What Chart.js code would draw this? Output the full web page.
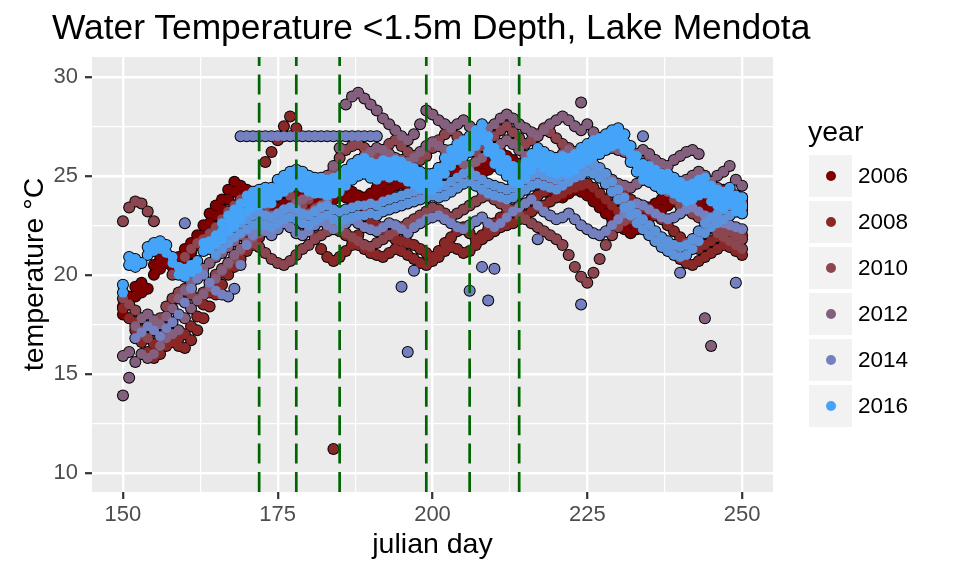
<!DOCTYPE html>
<html>
<head>
<meta charset="utf-8">
<script src="https://cdn.jsdelivr.net/npm/chart.js@4.4.1/dist/chart.umd.min.js"></script>
<style>
  body { margin: 0; background: #fff; }
  #wrap { position: relative; width: 960px; height: 576px; font-family: 'Liberation Sans', Arial, sans-serif; color: #000; }
  #chart { position: absolute; left: 0; top: 0; }
  .title { position: absolute; left: 52px; top: 10px; font-size: 35.4px; line-height: 35px; white-space: nowrap; }
  .lg-title { position: absolute; left: 808px; top: 117px; font-size: 28.5px; line-height: 28.5px; }
  .lg-box { position: absolute; left: 809px; width: 43px; height: 42.5px; background: #f2f2f2; }
  .lg-dot { position: absolute; width: 10px; height: 10px; border-radius: 50%; }
  .lg-text { position: absolute; left: 858px; font-size: 22.5px; line-height: 22.5px; }
</style>
</head>
<body>
<div id="wrap">
  <canvas id="chart" width="960" height="576"></canvas>
  <div class="title">Water Temperature &lt;1.5m Depth, Lake Mendota</div>
  <div id="legend"></div>
</div>
<script>
// julian days shared by every daily series (readings a/b/c per day)
var days = [
  150,151,152,153,154,155,156,157,158,159,
  160,161,162,163,164,165,166,167,168,169,
  170,171,172,173,174,175,176,177,178,179,
  180,181,182,183,184,185,186,187,188,189,
  190,191,192,193,194,195,196,197,198,199,
  200,201,202,203,204,205,206,207,208,209,
  210,211,212,213,214,215,216,217,218,219,
  220,221,222,223,224,225,226,227,228,229,
  230,231,232,233,234,235,236,237,238,239,
  240,241,242,243,244,245,246,247,248,249,
  250
];

var t2006a = [
  18.4,18.9,19.4,19.6,19.3,20.5,20.8,20.6,20.4,20.9,
  21.3,21.6,22.0,22.5,23.1,23.5,23.8,24.3,24.7,24.5,
  24.3,24.0,23.7,23.5,23.3,23.4,23.6,23.8,24.0,24.1,
  24.0,23.8,23.9,24.1,24.3,24.5,24.4,24.2,24.0,23.9,
  24.1,24.4,24.6,24.8,25.0,25.1,24.9,24.7,24.6,24.8,
  25.1,25.4,25.6,25.8,25.7,25.5,25.3,25.4,25.6,25.8,
  26.0,26.2,26.0,25.8,25.6,25.5,25.3,25.1,24.9,24.7,
  24.5,24.4,24.6,24.8,24.7,24.5,24.2,23.9,23.6,23.3,
  23.0,22.8,22.6,22.8,23.1,23.4,23.6,23.8,24.0,24.2,
  24.3,24.4,24.2,24.0,23.8,23.9,24.1,24.3,24.2,24.0,
  23.8
];
var t2006b = [
  18.0,null,18.9,19.1,null,20.0,20.3,null,null,20.4,
  20.8,21.1,21.5,22.0,22.6,23.0,23.3,23.8,24.2,24.0,
  23.8,23.5,23.2,23.0,22.8,22.9,23.1,23.3,23.5,23.6,
  23.5,23.3,23.4,23.6,23.8,24.0,23.9,23.7,23.5,23.4,
  23.6,23.9,24.1,24.3,24.5,24.6,24.4,24.2,24.1,24.3,
  24.6,24.9,25.1,25.3,25.2,25.0,24.8,24.9,25.1,25.3,
  25.5,25.7,25.5,25.3,25.1,25.0,24.8,24.6,24.4,24.2,
  24.0,23.9,24.1,24.3,24.2,24.0,23.7,23.4,23.1,22.8,
  22.5,22.3,22.1,22.3,22.6,22.9,23.1,23.3,23.5,23.7,
  23.8,23.9,23.7,23.5,23.3,23.4,23.6,23.8,23.7,23.5,
  23.3
];

var t2008a = [
  18.3,17.8,17.2,16.6,16.1,15.8,16.0,16.4,16.6,16.4,
  16.3,16.7,17.2,17.8,18.4,19.0,19.5,20.0,20.4,20.8,
  21.2,21.5,21.9,25.7,26.2,26.8,27.5,28.0,27.4,24.8,
  23.9,23.4,23.1,22.8,22.5,22.2,22.0,21.8,21.5,21.3,
  21.1,21.0,20.9,21.1,21.3,21.2,21.0,20.8,20.6,20.5,
  20.7,20.9,21.2,21.4,21.3,21.1,21.2,21.5,21.8,22.0,
  22.2,22.4,22.5,22.6,22.8,23.0,23.2,23.4,23.5,23.7,
  23.9,24.1,24.3,24.4,24.5,24.6,24.4,24.1,23.8,23.5,
  23.2,23.0,22.8,22.6,22.4,22.2,22.0,21.7,21.4,21.1,
  20.8,20.6,20.5,20.7,20.9,21.1,21.3,21.5,21.4,21.2,
  21.0
];
var t2008b = [
  null,null,17.6,17.2,16.8,16.5,16.7,17.1,17.0,16.8,
  17.0,17.4,17.9,18.5,19.1,19.6,20.1,20.5,20.9,21.3,
  21.7,22.0,22.4,22.6,22.8,23.0,23.2,23.3,23.1,22.8,
  22.4,21.9,21.3,20.9,20.7,20.9,21.2,21.5,22.0,22.4,
  22.6,22.5,22.3,22.0,21.8,21.7,21.6,21.5,21.3,21.1,
  20.9,21.2,21.6,21.9,22.2,22.4,22.1,21.8,22.0,22.3,
  22.6,22.9,23.1,23.3,23.5,23.6,23.8,24.0,24.2,24.4,
  24.6,24.8,25.0,25.2,25.3,25.4,25.5,25.3,25.0,24.7,
  24.4,24.1,23.8,23.6,23.4,23.2,23.0,22.8,22.5,22.2,
  21.9,21.6,21.4,21.3,21.5,21.7,21.9,22.1,22.3,22.2,
  22.0
];

var t2010a = [
  22.7,23.4,23.7,23.6,23.2,22.7,null,null,20.0,20.4,
  20.9,21.3,21.6,21.8,22.1,22.4,22.8,23.2,23.5,23.8,
  23.6,23.3,23.0,23.4,23.8,24.0,24.2,24.0,23.7,23.5,
  23.8,24.1,24.4,24.8,25.3,25.9,26.3,26.5,26.6,26.4,
  26.2,26.0,26.3,26.6,26.8,26.5,26.2,26.0,25.8,26.0,
  26.4,26.8,27.1,27.3,27.0,26.7,26.4,26.2,26.5,26.8,
  27.0,27.3,27.5,27.2,26.9,26.6,26.8,27.1,27.4,27.2,
  26.9,26.6,26.4,26.2,26.0,25.7,25.4,25.0,24.6,24.2,
  23.8,23.5,23.2,23.0,25.3,26.0,25.5,24.8,24.2,23.8,
  23.5,23.3,23.1,22.9,22.8,22.6,22.5,22.3,22.2,22.0,
  21.8
];
var t2010b = [
  18.8,18.5,18.2,17.0,16.8,17.2,17.8,18.4,18.8,19.1,
  19.3,19.0,18.8,19.1,19.6,20.0,20.3,20.5,20.8,21.2,
  21.5,21.6,21.4,21.1,20.8,20.6,20.5,20.7,21.0,21.3,
  21.5,21.8,22.0,22.2,22.4,22.3,22.1,21.9,21.7,21.5,
  21.4,21.6,21.8,22.0,22.2,22.4,22.6,22.8,23.0,23.2,
  23.4,23.3,23.1,22.9,23.1,23.3,23.5,23.7,23.9,24.0,
  23.8,23.6,23.4,23.2,23.0,22.8,22.6,22.4,22.2,22.0,
  21.8,21.5,21.0,20.4,19.9,19.6,20.1,20.8,21.5,22.0,
  22.4,22.7,22.9,22.6,22.3,22.1,21.9,21.8,21.6,21.5,
  21.4,21.6,21.8,22.0,22.2,22.4,22.1,21.9,21.7,21.5,
  21.3
];

var t2012a = [
  13.9,14.8,15.6,16.0,15.8,16.0,16.4,16.8,17.0,17.2,
  17.8,18.3,18.7,19.0,19.4,19.8,20.2,20.6,21.0,21.3,
  21.6,21.9,22.1,22.4,22.7,23.0,23.2,23.4,23.6,23.8,
  24.0,24.3,24.6,25.0,25.5,26.4,28.6,29.0,29.2,28.9,
  28.6,28.3,27.9,27.6,27.3,27.0,26.8,27.1,27.6,28.3,
  28.1,27.8,27.6,27.4,27.6,27.8,27.5,27.3,27.2,27.4,
  27.6,27.9,28.1,27.9,27.6,27.4,27.2,27.0,27.3,27.6,
  27.8,28.0,27.8,27.5,28.7,27.6,27.2,26.9,26.6,26.4,
  26.3,26.2,26.0,26.1,26.3,26.1,25.8,25.6,25.5,25.8,
  26.0,26.2,26.3,26.1,17.8,16.4,25.0,25.2,25.5,24.8,
  24.5
];
var t2012b = [
  15.9,16.1,17.4,17.8,18.0,17.7,17.5,17.9,18.3,18.8,
  19.2,19.6,20.0,20.3,20.6,20.9,21.1,21.4,21.7,22.0,
  22.2,22.4,22.6,22.8,23.0,23.1,23.3,23.2,23.0,22.9,
  23.1,23.3,23.5,23.8,24.2,24.6,25.0,25.4,25.8,26.0,
  26.2,26.4,26.3,26.1,25.9,25.8,25.7,25.9,26.2,26.5,
  26.7,26.5,26.3,26.0,25.8,25.6,25.5,25.7,25.9,26.2,
  26.4,26.6,26.8,26.6,26.3,26.0,25.8,25.6,25.5,25.7,
  25.9,26.1,26.3,26.0,25.7,25.5,25.3,25.2,25.0,24.8,
  24.6,24.5,24.4,24.6,24.8,24.7,24.5,24.3,24.2,24.4,
  24.6,24.8,25.0,25.2,25.0,24.7,24.4,24.2,24.0,23.8,
  23.6
];

// 2014: stuck sensor reading at 27.0 plus the regular readings
var t2014a = [
  null,null,null,null,null,null,null,null,null,null,
  null,null,null,null,null,null,null,null,null,27.0,
  27.0,27.0,27.0,27.0,27.0,27.0,27.0,27.0,27.0,27.0,
  27.0,27.0,27.0,27.0,27.0,27.0,27.0,27.0,27.0,27.0,
  27.0,27.0,null,null,null,null,null,null,null,null,
  null,null,null,null,null,null,null,null,null,null,
  null,null,null,null,null,null,null,null,null,null,
  null,null,null,null,null,null,null,null,null,null,
  null,null,null,null,null,null,null,null,null,null,
  null,null,null,null,null,null,null,null,null,null,
  null
];
var t2014b = [
  null,null,16.8,17.1,17.4,17.2,16.9,17.3,17.6,18.0,
  18.6,19.3,19.8,20.0,19.6,19.2,19.0,18.9,19.3,20.5,
  21.5,22.0,22.3,22.2,22.0,22.3,22.6,22.4,22.1,22.0,
  22.2,22.5,22.7,22.5,22.3,22.4,22.6,22.8,22.6,22.4,
  22.3,22.2,22.4,22.6,22.5,22.3,22.1,22.4,22.6,22.8,
  22.9,23.0,22.8,22.6,22.4,22.3,22.5,22.7,22.9,22.6,
  22.4,22.6,22.9,23.2,23.4,23.6,23.8,23.5,23.2,23.0,
  22.8,22.9,23.1,22.8,22.5,22.3,22.1,22.0,22.2,22.5,
  22.8,23.1,23.4,23.6,23.5,23.3,23.1,22.9,22.8,22.9,
  23.1,23.3,23.4,23.2,23.0,22.9,22.8,22.6,22.5,22.4,
  22.3
];

var t2015a = [
  null,null,null,null,null,null,null,null,null,null,
  null,null,null,null,null,21.0,21.3,21.6,21.9,22.1,
  22.3,22.5,22.6,22.5,22.4,22.6,22.8,22.9,22.8,22.6,
  22.5,22.7,22.9,23.0,22.8,22.7,22.8,22.9,23.0,23.0,
  23.1,23.0,23.2,23.3,23.4,23.5,23.6,23.7,23.8,23.9,
  24.0,23.9,24.0,24.2,24.4,24.6,24.7,24.5,24.3,24.1,
  24.0,23.9,23.8,23.9,24.1,24.3,24.5,24.6,24.5,24.4,
  24.3,24.5,24.7,24.9,25.0,25.2,25.1,24.9,24.6,24.2,
  23.8,23.4,23.0,22.6,22.3,22.0,21.7,21.4,21.2,21.0,
  20.9,21.0,21.3,21.7,22.1,22.4,22.6,22.8,23.0,23.2,
  23.4
];
var t2015b = [
  null,null,null,null,null,null,null,null,null,null,
  null,null,null,null,null,21.5,21.8,22.1,22.4,22.6,
  22.8,23.0,23.1,23.0,22.9,23.1,23.3,23.4,23.3,23.1,
  23.0,23.2,23.4,23.5,23.3,23.2,23.3,23.4,23.5,23.5,
  23.6,23.5,23.7,23.8,23.9,24.0,24.1,24.2,24.3,24.4,
  24.5,24.4,24.5,24.7,24.9,25.1,25.2,25.0,24.8,24.6,
  24.5,24.4,24.3,24.4,24.6,24.8,25.0,25.1,25.0,24.9,
  24.8,25.0,25.2,25.4,25.5,25.7,25.6,25.4,25.1,24.7,
  24.3,23.9,23.5,23.1,22.8,22.5,22.2,21.9,21.7,21.5,
  21.4,21.5,21.8,22.2,22.6,22.9,23.1,23.3,23.5,23.7,
  23.9
];

var t2016a = [
  19.5,20.9,20.8,20.6,21.4,21.6,21.7,21.5,20.9,20.4,
  20.3,20.5,20.7,21.6,21.7,22.0,22.6,23.0,23.3,23.6,
  24.0,24.2,24.3,24.4,24.4,24.8,25.0,25.2,25.3,25.2,
  25.0,24.9,24.9,24.8,24.9,25.0,25.3,25.6,25.8,25.9,
  25.7,25.6,25.8,25.7,25.8,25.7,25.5,25.4,25.2,25.1,
  25.1,25.4,25.9,26.3,26.6,26.8,27.0,27.3,27.6,27.0,
  26.4,26.1,25.8,25.5,25.4,25.7,26.1,26.4,26.2,26.0,
  25.9,26.0,25.9,26.1,26.4,26.6,26.8,26.9,27.1,27.3,
  27.4,27.1,26.5,26.0,25.6,25.5,25.3,25.1,25.1,24.9,
  24.7,24.5,24.6,24.8,24.9,24.5,24.3,24.2,24.4,24.0,
  23.9
];
var t2016b = [
  19.1,20.5,20.4,null,21.0,21.2,21.3,21.1,20.6,20.0,
  19.9,20.1,20.3,21.2,21.3,21.6,22.2,22.6,22.9,23.2,
  23.6,23.8,23.9,24.0,24.0,24.4,24.6,24.8,24.9,24.8,
  24.6,24.5,24.5,24.4,24.5,24.6,24.9,25.2,25.4,25.5,
  25.3,25.2,25.4,25.3,25.4,25.3,25.1,25.0,24.8,24.7,
  24.7,25.0,25.5,25.9,26.2,26.4,26.6,26.9,27.2,26.6,
  26.0,25.7,25.4,25.1,25.0,25.3,25.7,26.0,25.8,25.6,
  25.5,25.6,25.5,25.7,26.0,26.2,26.4,26.5,26.7,26.9,
  27.0,26.7,26.1,25.6,25.2,25.1,24.9,24.7,24.7,24.5,
  24.3,24.1,24.2,24.4,24.5,24.1,23.9,23.8,24.0,23.6,
  23.5
];
var t2016c = [
  null,null,null,null,null,null,null,null,null,null,
  null,null,null,null,null,null,21.8,22.2,22.5,22.8,
  23.2,23.4,23.5,23.6,23.6,24.0,24.2,24.4,24.5,24.4,
  24.2,24.1,24.1,24.0,24.1,24.2,24.5,24.8,25.0,25.1,
  24.9,24.8,25.0,24.9,25.0,24.9,24.7,24.6,24.4,24.3,
  24.3,24.6,25.1,25.5,25.8,26.0,26.2,26.5,26.8,26.2,
  25.6,25.3,25.0,24.7,24.6,24.9,25.3,25.6,25.4,25.2,
  25.1,25.2,25.1,25.3,25.6,25.8,26.0,26.1,26.3,26.5,
  26.6,26.3,25.7,25.2,24.8,24.7,24.5,24.3,24.3,24.1,
  23.9,23.7,23.8,24.0,24.1,23.7,23.5,23.4,23.6,23.2,
  23.1
];

// isolated readings (mostly 2014 outliers)
var extraDays  = [184, 160, 195, 196, 197, 206, 208, 209, 210, 217, 224, 234, 240, 249, 224];
var extraTemps = [11.2, 22.6, 19.4, 16.1, 20.2, 19.2, 20.4, 18.7, 20.3, 21.8, 18.5, 27.0, 20.1, 19.6, 27.3];
var extraYears = [2008, 2014, 2014, 2014, 2014, 2014, 2014, 2014, 2014, 2014, 2014, 2014, 2014, 2014, 2012];

// dashed reference lines
var markerDays = [172, 178, 185, 199, 206, 214];

var xMajor = [150, 175, 200, 225, 250];
var xGrid = [150, 162.5, 175, 187.5, 200, 212.5, 225, 237.5, 250];
var yMajor = [10, 15, 20, 25, 30];
var yGrid = [10, 12.5, 15, 17.5, 20, 22.5, 25, 27.5, 30];

var legendYears = [2006, 2008, 2010, 2012, 2014, 2016];

var YEAR_COLORS = {
  2006: '#7f0000',
  2008: '#8a2727',
  2010: '#8b4650',
  2012: '#85607e',
  2014: '#7580c0',
  2015: '#5c93dd',
  2016: '#45a4f8'
};

var FONT = "'Liberation Sans', Arial, sans-serif";

var series = [
  { year: 2006, temps: [t2006a, t2006b] },
  { year: 2008, temps: [t2008a, t2008b] },
  { year: 2010, temps: [t2010a, t2010b] },
  { year: 2012, temps: [t2012a, t2012b] },
  { year: 2014, temps: [t2014a, t2014b] },
  { year: 2015, temps: [t2015a, t2015b] },
  { year: 2016, temps: [t2016a, t2016b, t2016c] }
];

function toPoints(temps) {
  var pts = [];
  temps.forEach(function (t, i) {
    if (t !== null) pts.push({ x: days[i], y: t });
  });
  return pts;
}

var datasets = [];
series.forEach(function (s, si) {
  var pts = [];
  s.temps.forEach(function (arr) { pts = pts.concat(toPoints(arr)); });
  extraYears.forEach(function (yr, k) {
    if (yr === s.year) pts.push({ x: extraDays[k], y: extraTemps[k] });
  });
  // black halo first, under everything
  datasets.push({
    data: pts, pointRadius: 6.0, pointBackgroundColor: '#000', pointBorderWidth: 0,
    showLine: false, order: 100
  });
  // coloured fill, later years on top
  datasets.push({
    data: pts, pointRadius: 5.0, pointBackgroundColor: YEAR_COLORS[s.year], pointBorderWidth: 0,
    showLine: false, order: 50 - si
  });
});

var panelBg = {
  id: 'panelBg',
  beforeDraw: function (chart) {
    var a = chart.chartArea, ctx = chart.ctx;
    ctx.save();
    ctx.fillStyle = '#ebebeb';
    ctx.fillRect(a.left, a.top, a.right - a.left, a.bottom - a.top);
    ctx.restore();
  }
};

var markerLines = {
  id: 'markerLines',
  afterDatasetsDraw: function (chart) {
    var a = chart.chartArea, ctx = chart.ctx, x = chart.scales.x;
    ctx.save();
    ctx.strokeStyle = '#006400';
    ctx.lineWidth = 2.7;
    ctx.setLineDash([20, 8.4]);
    markerDays.forEach(function (d) {
      var px = x.getPixelForValue(d);
      ctx.beginPath();
      ctx.moveTo(px, a.bottom);
      ctx.lineTo(px, a.top);
      ctx.stroke();
    });
    ctx.restore();
  }
};

function gridFor(major) {
  return {
    color: '#ffffff',
    lineWidth: function (c) { return c.tick && major.indexOf(c.tick.value) >= 0 ? 2.4 : 1.2; },
    tickLength: 7,
    tickWidth: 2.2,
    tickColor: function (c) { return c.tick && major.indexOf(c.tick.value) >= 0 ? '#333333' : 'rgba(0,0,0,0)'; }
  };
}

new Chart(document.getElementById('chart').getContext('2d'), {
  type: 'scatter',
  data: { datasets: datasets },
  plugins: [panelBg, markerLines],
  options: {
    responsive: false,
    animation: false,
    events: [],
    layout: { padding: { top: 57, right: 187, left: 0, bottom: 0 } },
    plugins: { legend: { display: false }, tooltip: { enabled: false } },
    scales: {
      x: {
        type: 'linear', min: 145, max: 255,
        afterBuildTicks: function (s) { s.ticks = xGrid.map(function (v) { return { value: v }; }); },
        afterFit: function (s) { s.height = 84; },
        grid: gridFor(xMajor),
        border: { display: false },
        ticks: {
          autoSkip: false, maxRotation: 0, padding: 3, color: '#4d4d4d',
          font: { family: FONT, size: 22 },
          callback: function (v) { return xMajor.indexOf(v) >= 0 ? String(v) : ''; }
        },
        title: {
          display: true, text: 'julian day', color: '#000',
          font: { family: FONT, size: 28.5 }, padding: { top: 0, bottom: 14 }
        }
      },
      y: {
        type: 'linear', min: 9.03, max: 31.0,
        afterBuildTicks: function (s) { s.ticks = yGrid.map(function (v) { return { value: v }; }); },
        afterFit: function (s) { s.width = 92; },
        grid: gridFor(yMajor),
        border: { display: false },
        ticks: {
          autoSkip: false, padding: 7, color: '#4d4d4d',
          font: { family: FONT, size: 22 },
          callback: function (v) { return yMajor.indexOf(v) >= 0 ? String(v) : ''; }
        },
        title: {
          display: true, text: 'temperature °C', color: '#000',
          font: { family: FONT, size: 28.5 }, padding: { top: 18, bottom: 0 }
        }
      }
    }
  }
});

// legend (ggplot style keys)
(function () {
  var lg = document.getElementById('legend');
  var t = document.createElement('div');
  t.className = 'lg-title';
  t.textContent = 'year';
  lg.appendChild(t);
  legendYears.forEach(function (yr, i) {
    var top = 154.5 + i * 46;
    var mid = top + 21.25;
    var box = document.createElement('div');
    box.className = 'lg-box';
    box.style.top = top + 'px';
    lg.appendChild(box);
    var dot = document.createElement('div');
    dot.className = 'lg-dot';
    dot.style.left = (830.5 - 5) + 'px';
    dot.style.top = (mid - 5) + 'px';
    dot.style.background = YEAR_COLORS[yr];
    lg.appendChild(dot);
    var txt = document.createElement('div');
    txt.className = 'lg-text';
    txt.style.top = (mid - 11) + 'px';
    txt.textContent = String(yr);
    lg.appendChild(txt);
  });
})();
</script>
</body>
</html>
